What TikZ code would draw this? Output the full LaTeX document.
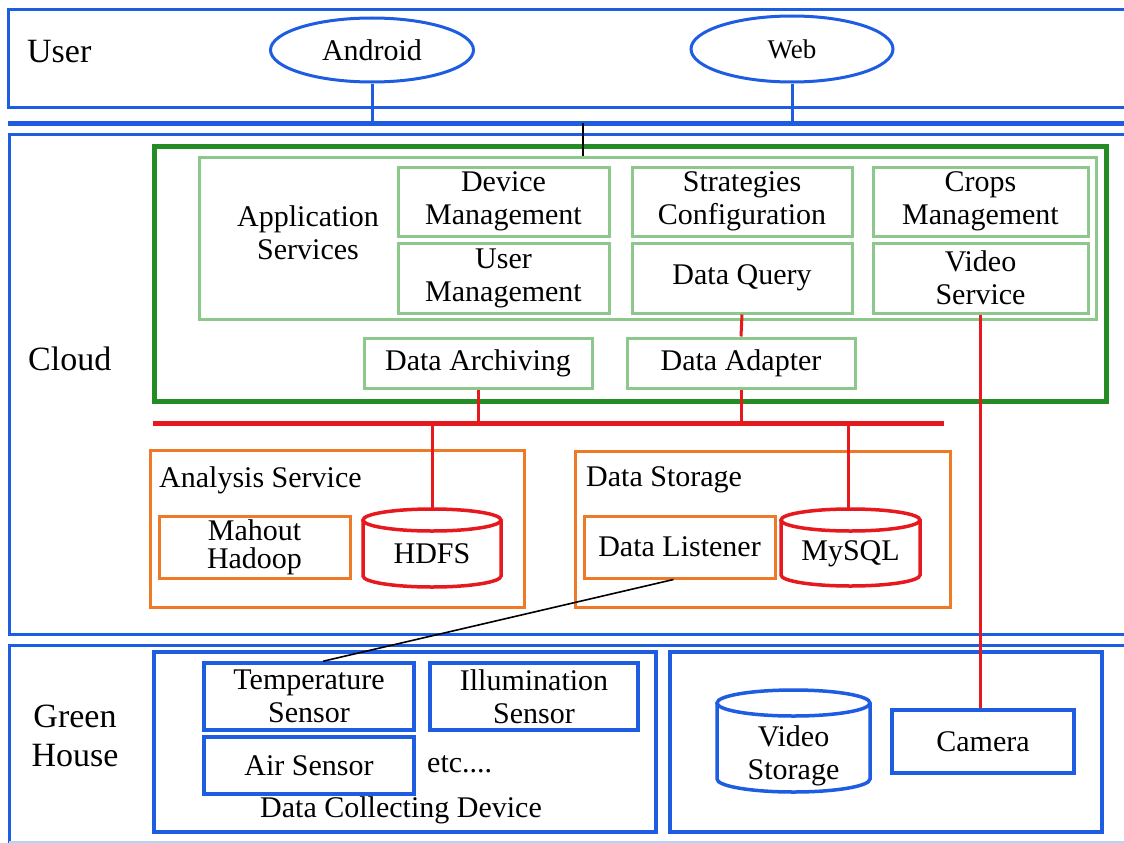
\documentclass[tikz,border=0pt]{standalone}
\usepackage{fontspec}
\setmainfont{Liberation Serif}
\usetikzlibrary{calc,shapes.geometric}
\definecolor{cblue}{RGB}{30,92,225}
\definecolor{cltblue}{RGB}{175,215,250}
\definecolor{cgreen}{RGB}{36,140,36}
\definecolor{clgreen}{RGB}{140,200,140}
\definecolor{cred}{RGB}{230,25,30}
\definecolor{corange}{RGB}{238,122,40}
\newcommand\mycyl[6]{%
  \draw[#6] (#1,#2+#5) ellipse[x radius=#4, y radius=#5];
  \draw[#6] (#1-#4,#2+#5) -- (#1-#4,#3-#5) arc[start angle=180,end angle=0,x radius=#4,y radius=#5] -- (#1+#4,#2+#5);
}
\tikzset{
  sz/.style 2 args={minimum width=#1pt, minimum height=#2pt},
  t30/.style={font=\fontsize{30}{33}\selectfont, align=center, inner sep=0pt},
  lay/.style={font=\fontsize{34}{39}\selectfont, align=center, inner sep=0pt},
  frame/.style={draw=cblue, line width=3pt},
  bluebox/.style={draw=cblue, line width=3.5pt, t30},
  gouter/.style={draw=cgreen, line width=5pt},
  lgbox/.style={draw=clgreen, line width=3pt, t30},
  obox/.style={draw=corange, line width=3pt, t30},
  redline/.style={draw=cred, line width=3pt},
  redbus/.style={draw=cred, line width=5pt},
  bluebus/.style={draw=cblue, line width=5pt},
  blueline/.style={draw=cblue, line width=3pt},
  blackline/.style={draw=black, line width=1.6pt},
  cylred/.style={draw=cred, line width=3.5pt},
  cylblue/.style={draw=cblue, line width=3.5pt},
}
\begin{document}
\begin{tikzpicture}[x=1pt,y=-1pt]
\useasboundingbox (0,0) rectangle (1124,843);
\clip (0,0) rectangle (1124,843);
\fill[white] (0,0) rectangle (1124,843);

% ---- layer frames
\node[frame, sz={1132}{97}] (userframe) at (574,58.5) {};
\node[frame, sz={1131}{500}] (cloudframe) at (574.5,384) {};
\node[frame, sz={1131}{201}] (ghframe) at (574.5,745.5) {};
\coordinate (ghbl) at (9,842);
\coordinate (ghbr) at (1124,842);
\draw[draw=cltblue, line width=2pt] (ghbl) -- (ghbr);

% ---- layer labels
\node[lay, anchor=west] (userlbl) at (27,52) {User};
\node[lay, anchor=west] (cloudlbl) at (28,359) {Cloud};
\node[lay] (ghlbl) at (75,736) {Green\\House};

% ---- user layer
\node[ellipse, draw=cblue, line width=3pt, sz={203}{64}, t30] (android) at (372,50) {Android};
\node[ellipse, draw=cblue, line width=3pt, sz={202}{66}, t30, font=\fontsize{27}{30}\selectfont] (web) at (792,49) {Web};
\coordinate (busL) at (8,123);
\coordinate (busR) at (1124,123);
\draw[bluebus] (busL) -- (busR);
\draw[blueline] (android.south) -- (android.south |- busL);
\draw[blueline] (web.south) -- (web.south |- busL);

% ---- cloud: application services
\node[gouter, sz={952}{255}] (gouter) at (630,273.5) {};
\node[lgbox, sz={897}{162}] (appsvc) at (647.5,238) {};
\node[t30] (applbl) at (308,233) {Application\\Services};
\node[lgbox, sz={211}{69}] (devmgmt) at (503.5,201.5) {Device\\Management};
\node[lgbox, sz={211}{70}] (usermgmt) at (503.5,278) {User\\Management};
\node[lgbox, sz={220}{69}] (strat) at (742,201.5) {Strategies\\Configuration};
\node[lgbox, sz={220}{70}] (dquery) at (742,278) {Data Query};
\node[lgbox, sz={215}{69}] (crops) at (980.5,201.5) {Crops\\Management};
\node[lgbox, sz={215}{70}] (vsvc) at (980.5,278) {Video\\Service};
\node[lgbox, sz={228}{50}] (archiving) at (478,363) {Data Archiving};
\node[lgbox, sz={228}{50}] (adapter) at (741,363) {Data Adapter};

\coordinate (blk) at (583,123);
\draw[blackline] (blk) -- (blk |- appsvc.north);

% ---- red bus
\coordinate (rbL) at (153,423);
\coordinate (rbR) at (944,423);
\draw[redbus] (rbL) -- (rbR);
\draw[redline] (archiving.south) -- (archiving.south |- rbL);
\draw[redline] (dquery.south) -- (adapter.north);
\draw[redline] (adapter.south) -- (adapter.south |- rbL);

% ---- analysis service
\node[obox, sz={374}{157}] (analysis) at (337,528.5) {};
\node[t30, anchor=west] (anlbl) at (159,480) {Analysis Service};
\node[obox, sz={191}{62}, font=\fontsize{30}{28}\selectfont] (mahout) at (254.5,547) {Mahout\\Hadoop};
\mycyl{432}{509}{587}{69}{11}{cylred}
\coordinate (hdfstop) at (432,509);
\node[t30] (hdfs) at (432,554) {HDFS};
\draw[redline] (hdfstop) -- (hdfstop |- rbL);

% ---- data storage
\node[obox, sz={375}{156}] (dstore) at (762.5,529) {};
\node[t30, anchor=west] (dslbl) at (586,480) {Data Storage};
\node[obox, sz={191}{62}] (listener) at (679.5,547) {Data Listener};
\mycyl{850.5}{509}{586}{69.5}{11}{cylred}
\coordinate (mysqltop) at (848,509);
\node[t30] (mysql) at (850.5,554) {MySQL};
\draw[redline] (mysqltop) -- (mysqltop |- rbL);

% ---- green house
\node[bluebox, sz={502}{180}] (dcd) at (405,742) {};
\node[bluebox, sz={210}{67}] (tsensor) at (309,696.5) {Temperature\\Sensor};
\node[bluebox, sz={208}{67}] (isensor) at (534,696.5) {Illumination\\Sensor};
\node[bluebox, sz={210}{57}] (asensor) at (309,765.5) {Air Sensor};
\node[t30, anchor=west] (etc) at (427,764) {etc....};
\node[t30] (dcdlbl) at (401,810) {Data Collecting Device};

\node[bluebox, sz={432}{180}] (rightbox) at (886,742) {};
\mycyl{793.5}{690}{792}{76.5}{13}{cylblue}
\node[t30] (vstore) at (793.5,756) {Video\\Storage};
\node[bluebox, sz={182}{63}] (camera) at (983,741.5) {Camera};

% ---- connectors
\draw[redline] (vsvc.south) -- (vsvc.south |- camera.north);
\draw[blackline] ($(listener.south)+(-6,0)$) -- ($(tsensor.north)+(14,0)$);
\end{tikzpicture}
\end{document}
